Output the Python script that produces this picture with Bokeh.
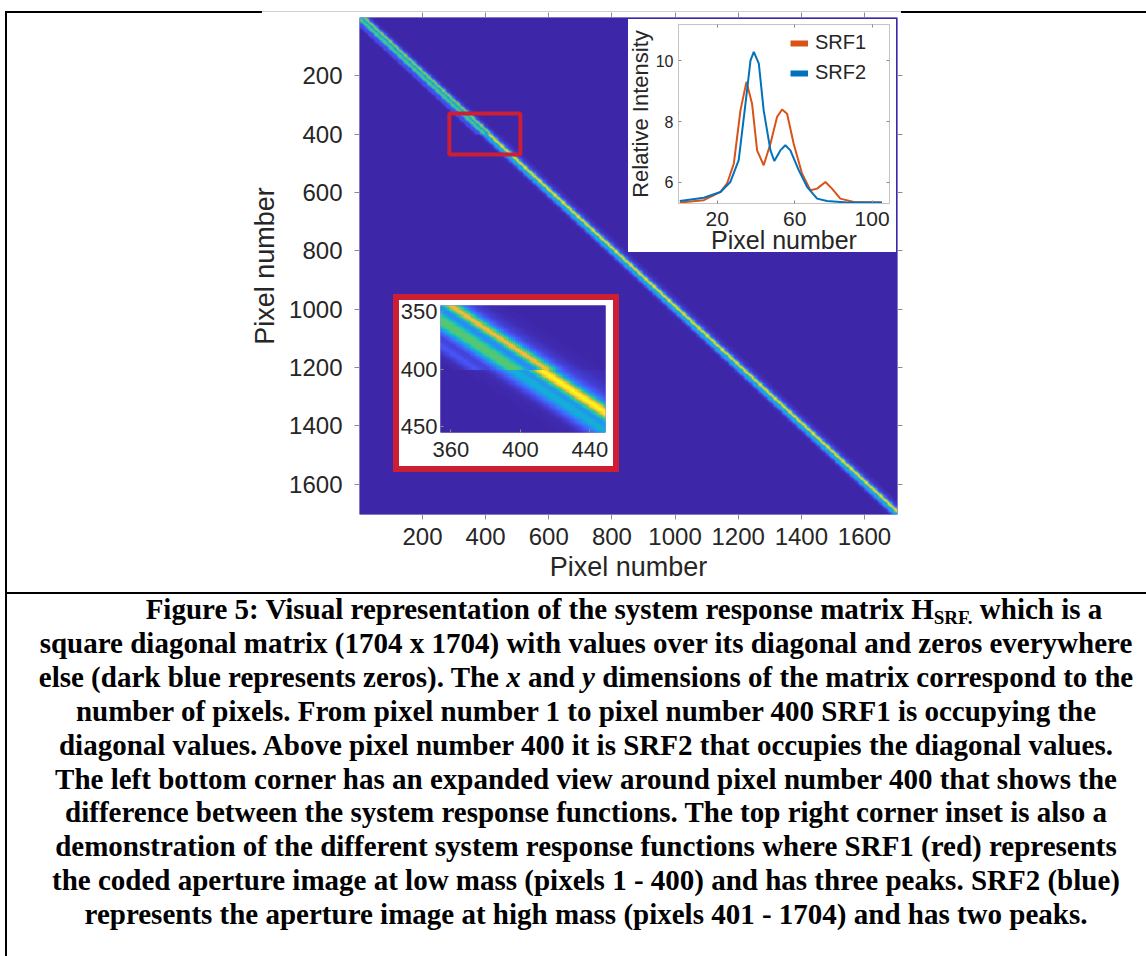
import numpy as np
from bokeh.plotting import figure
from bokeh.models import (Range1d, LinearColorMapper, LinearAxis, FixedTicker, Div,
                          Legend, LegendItem, ColumnDataSource, CDSView, IndexFilter)
from bokeh.layouts import column
from bokeh.embed import file_html
from bokeh.resources import INLINE

# ---------------- data ----------------
n_pixels = 1704
switch_pixel = 400            # rows 1..400 use SRF1, rows 401..1704 use SRF2
srf_center = 50               # SRF sample that sits on the diagonal

srf1_x = [0.7, 13.1, 21.7, 25.1, 28.6, 32.0, 35.1, 38.0, 40.6, 44.0, 47.5, 50.9,
          53.5, 56.1, 59.5, 63.8, 68.1, 71.6, 75.9, 79.3, 83.6, 90.5, 105.1]
srf1_y = [5.33, 5.41, 5.68, 5.96, 6.62, 8.37, 9.31, 8.59, 7.05, 6.56, 7.27, 8.15,
          8.40, 8.26, 7.27, 6.29, 5.74, 5.79, 6.01, 5.79, 5.46, 5.35, 5.33]
srf2_x = [0.7, 13.1, 21.7, 26.8, 31.1, 34.6, 37.2, 38.9, 41.5, 44.0, 47.5, 49.5,
          52.6, 55.2, 57.8, 62.1, 66.4, 71.6, 76.7, 87.1, 105.1]
srf2_y = [5.38, 5.49, 5.68, 6.01, 6.73, 8.59, 10.02, 10.30, 9.91, 8.37, 7.05, 6.70,
          7.05, 7.22, 7.05, 6.40, 5.85, 5.46, 5.38, 5.33, 5.33]
srf_labels = ["SRF1", "SRF2"]

main_ticks = [200, 400, 600, 800, 1000, 1200, 1400, 1600]
srf_xticks = [20, 60, 100]
srf_yticks = [6, 8, 10]
zoom_xticks = [360, 400, 440]
zoom_yticks = [350, 400, 450]
zoom_rows = (345, 455)        # pixel rows shown in the expanded view
zoom_cols = (354, 449)        # pixel columns shown in the expanded view
marker_box = dict(left=285, right=510, top=330, bottom=470)

caption_lines = [
    "<span style='padding-left:76px'>Figure 5: Visual representation of the system response matrix H<sub style='font-size:19px;line-height:0;vertical-align:-5px'>SRF.</sub> which is a</span>",
    "square diagonal matrix (1704 x 1704) with values over its diagonal and zeros everywhere",
    "else (dark blue represents zeros). The <i>x</i> and <i>y</i> dimensions of the matrix correspond to the",
    "number of pixels. From pixel number 1 to pixel number 400 SRF1 is occupying the",
    "diagonal values. Above pixel number 400 it is SRF2 that occupies the diagonal values.",
    "The left bottom corner has an expanded view around pixel number 400 that shows the",
    "difference between the system response functions. The top right corner inset is also a",
    "demonstration of the different system response functions where SRF1 (red) represents",
    "the coded aperture image at low mass (pixels 1 - 400) and has three peaks. SRF2 (blue)",
    "represents the aperture image at high mass (pixels 401 - 1704) and has two peaks.",
]

# ---------------- styles ----------------
ORANGE = "#D95319"
BLUE = "#0072BD"
RED = "#CC1F33"
TXT = "#262626"
TICK = "#8c8c8c"
FONT = "Liberation Sans"
LB, RB = 129, 9               # common left / right borders of all figures


def parula(n=256):
    anchors = np.array([
        [0.2422, 0.1504, 0.6603],
        [0.2810, 0.3228, 0.9579],
        [0.1786, 0.5289, 0.9682],
        [0.0689, 0.6948, 0.8394],
        [0.2161, 0.7843, 0.5923],
        [0.3500, 0.7800, 0.4200],
        [0.9300, 0.7300, 0.2500],
        [0.9900, 0.7800, 0.2000],
        [0.9769, 0.9839, 0.0805],
    ])
    pos = np.linspace(0, 1, len(anchors))
    t = np.linspace(0, 1, n)
    cols = []
    for v in t:
        rgb = [np.interp(v, pos, anchors[:, k]) for k in range(3)]
        cols.append("#%02x%02x%02x" % tuple(int(round(c * 255)) for c in rgb))
    return cols


PAL = parula()

# ---------------- system response matrix from the SRFs ----------------
base = min(min(srf1_y), min(srf2_y))
s_grid = np.arange(0, 112)
k1 = np.clip(np.interp(s_grid, srf1_x, srf1_y, left=base, right=base) - base, 0, None)
k2 = np.clip(np.interp(s_grid, srf2_x, srf2_y, left=base, right=base) - base, 0, None)
idx = np.arange(1, n_pixels + 1)
S = srf_center - (idx[None, :] - idx[:, None])
valid = (S >= 0) & (S < len(s_grid))
Sc = np.clip(S, 0, len(s_grid) - 1)
H = np.where(idx[:, None] <= switch_pixel, k1[Sc], k2[Sc]) * valid

f = 4
H_main = H.reshape(n_pixels // f, f, n_pixels // f, f).mean(axis=(1, 3)).astype(np.float32)
H_zoom = H[zoom_rows[0] - 1:zoom_rows[1], zoom_cols[0] - 1:zoom_cols[1]].astype(np.float32)
cmap = LinearColorMapper(palette=PAL, low=0, high=float(H.max()))


def style_axis(ax, ticks, lab_size, tick_out, tick_in, standoff, tick_color=TICK,
               line_color=None, show_labels=True):
    ax.ticker = FixedTicker(ticks=ticks)
    ax.major_label_text_font = FONT
    ax.major_label_text_font_size = lab_size
    ax.major_label_text_color = TXT if show_labels else None
    ax.major_tick_out = tick_out
    ax.major_tick_in = tick_in
    ax.major_tick_line_color = tick_color
    ax.minor_tick_line_color = None
    ax.axis_line_color = line_color
    ax.major_label_standoff = standoff
    ax.axis_label_text_font = FONT
    ax.axis_label_text_font_style = "normal"
    ax.axis_label_text_color = TXT


# ---------------- main heat map ----------------
pm = figure(frame_width=538, frame_height=497,
            x_range=Range1d(0.5, n_pixels + 0.5), y_range=Range1d(n_pixels + 0.5, 0.5),
            min_border_left=LB, min_border_right=RB, min_border_top=6, min_border_bottom=78,
            border_fill_color=None, background_fill_color=PAL[0], outline_line_color=None,
            output_backend="svg", toolbar_location=None)
pm.grid.visible = False
pm.image(image=[H_main], x=0.5, y=0.5, dw=n_pixels, dh=n_pixels, color_mapper=cmap)
pm.quad(left=[marker_box["left"]], right=[marker_box["right"]],
        top=[marker_box["top"]], bottom=[marker_box["bottom"]],
        fill_color=None, line_color=RED, line_width=4)
style_axis(pm.xaxis[0], main_ticks, "24px", 5, 0, 8)
pm.xaxis.axis_label = "Pixel number"
pm.xaxis.axis_label_text_font_size = "27px"
pm.xaxis.axis_label_standoff = 4
style_axis(pm.yaxis[0], main_ticks, "24px", 5, 0, 12)
pm.yaxis.axis_label = "Pixel number"
pm.yaxis.axis_label_text_font_size = "27px"
pm.yaxis.axis_label_standoff = 6
for loc in ("above", "right"):
    ax = LinearAxis()
    style_axis(ax, main_ticks, "2px", 5, 0, 0, show_labels=False)
    pm.add_layout(ax, loc)

# ---------------- top-right inset: the two SRFs ----------------
pt = figure(frame_width=211, frame_height=179,
            x_range=Range1d(0, 109), y_range=Range1d(5.3, 11.2),
            min_border_left=LB, min_border_right=RB, min_border_top=5, min_border_bottom=60,
            border_fill_color=None, background_fill_color="white",
            outline_line_color="#c4c4c4",
            output_backend="svg", toolbar_location=None)
pt.grid.visible = False
src1 = ColumnDataSource(dict(x=srf1_x, y=srf1_y))
src2 = ColumnDataSource(dict(x=srf2_x, y=srf2_y))
pt.line("x", "y", source=src1, line_color=ORANGE, line_width=2)
pt.line("x", "y", source=src2, line_color=BLUE, line_width=2)
# legend swatches: same sources, a single point kept (a one-point line draws nothing)
d1 = pt.line("x", "y", source=src1, line_color=ORANGE, line_width=6,
             view=CDSView(filter=IndexFilter(indices=[0])))
d2 = pt.line("x", "y", source=src2, line_color=BLUE, line_width=6,
             view=CDSView(filter=IndexFilter(indices=[0])))
style_axis(pt.xaxis[0], srf_xticks, "21px", 0, 3, 8, line_color="#c4c4c4")
pt.xaxis.axis_label = "Pixel number"
pt.xaxis.axis_label_text_font_size = "25px"
pt.xaxis.axis_label_standoff = -3
style_axis(pt.yaxis[0], srf_yticks, "16px", 0, 3, 5, line_color="#c4c4c4")
pt.yaxis.axis_label = "Relative Intensity"
pt.yaxis.axis_label_text_font_size = "22px"
pt.yaxis.axis_label_standoff = 0
for loc in ("above", "right"):
    ax = LinearAxis()
    style_axis(ax, srf_xticks if loc == "above" else srf_yticks, "2px", 0, 3, 0,
               line_color="#c4c4c4", show_labels=False)
    pt.add_layout(ax, loc)
legend = Legend(items=[LegendItem(label=srf_labels[0], renderers=[d1]),
                       LegendItem(label=srf_labels[1], renderers=[d2])],
                location=(112, 119), background_fill_alpha=0, border_line_color=None,
                padding=0, margin=0, spacing=7, glyph_width=18, glyph_height=22,
                label_height=22, label_standoff=7, label_text_font=FONT,
                label_text_font_size="20px", label_text_color=TXT)
pt.add_layout(legend)

# ---------------- bottom-left inset: expanded view near pixel 400 ----------------
pz = figure(frame_width=165, frame_height=127,
            x_range=Range1d(zoom_cols[0], zoom_cols[1]),
            y_range=Range1d(zoom_rows[1], zoom_rows[0]),
            min_border_left=LB, min_border_right=RB, min_border_top=5, min_border_bottom=34,
            border_fill_color=None, background_fill_color=PAL[0], outline_line_color=None,
            output_backend="svg", toolbar_location=None)
pz.grid.visible = False
pz.image(image=[H_zoom], x=zoom_cols[0] - 0.5, y=zoom_rows[0] - 0.5,
         dw=zoom_cols[1] - zoom_cols[0] + 1, dh=zoom_rows[1] - zoom_rows[0] + 1,
         color_mapper=cmap)
style_axis(pz.xaxis[0], zoom_xticks, "22px", 0, 3, 9)
style_axis(pz.yaxis[0], zoom_yticks, "22px", 0, 3, 3)

white_tr = Div(text="", width=268, height=233, styles={"background-color": "white"})
red_frame = Div(text="", width=226, height=178, styles={"background-color": RED})
white_bl = Div(text="", width=214, height=166, styles={"background-color": "white"})

# ---------------- page background: table lines and caption ----------------
cap = "<br>".join(caption_lines)
bg_html = f"""
<div style="position:relative;width:1146px;height:956px;">
 <div style="position:absolute;left:5px;top:11px;width:257px;height:2px;background:#000;"></div>
 <div style="position:absolute;left:262px;top:11px;width:639px;height:1px;background:#cfcfcf;"></div>
 <div style="position:absolute;left:901px;top:11px;width:245px;height:2px;background:#000;"></div>
 <div style="position:absolute;left:5px;top:11px;width:2px;height:945px;background:#000;"></div>
 <div style="position:absolute;left:5px;top:592px;width:1141px;height:2px;background:#000;"></div>
 <div style="position:absolute;left:26px;top:593px;width:1120px;text-align:center;
      font-family:'Liberation Serif';font-weight:bold;font-size:29px;line-height:33.9px;
      color:#000;white-space:nowrap;">{cap}</div>
</div>
"""
bg = Div(text=bg_html, width=1146, height=956)

# ---------------- stacking (absolute placement with margins) ----------------
pm.margin = (11, 0, 0, 359 - LB)            # top 11, height 581 -> bottom 592
white_tr.margin = (19 - 592, 0, 0, 628)     # top 19, height 233 -> bottom 252
red_frame.margin = (294 - 252, 0, 0, 393)   # top 294, height 178 -> bottom 472
white_bl.margin = (300 - 472, 0, 0, 399)    # top 300, height 166 -> bottom 466
pt.margin = (19 - 466, 0, 0, 678 - LB)      # top 19, height 244 -> bottom 263
pz.margin = (300 - 263, 0, 0, 440 - LB)     # top 300, height 166 -> bottom 466
bg.margin = (0 - 466, 0, 0, 0)              # top 0, height 956

layout = column(pm, white_tr, red_frame, white_bl, pt, pz, bg, spacing=0, margin=0)
open("out.html", "w").write(file_html(layout, INLINE))
